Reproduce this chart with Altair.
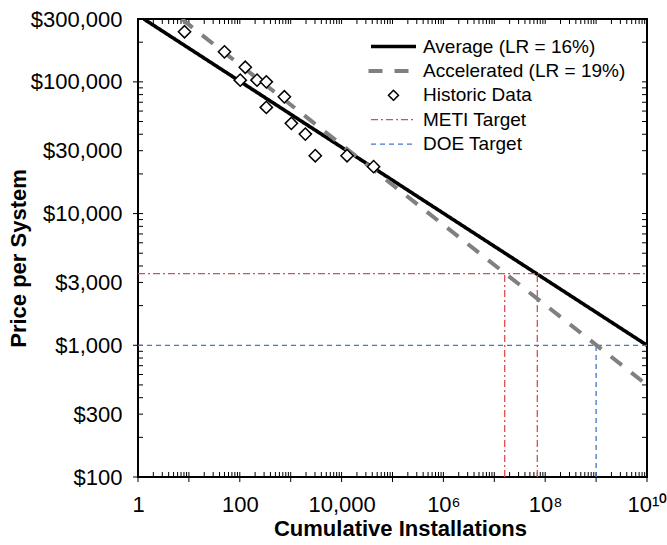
import altair as alt
import pandas as pd

FONT = "Liberation Sans"

# ---- data ----
series_names = ["Average (LR = 16%)", "Accelerated (LR = 19%)", "Historic Data", "METI Target", "DOE Target"]
series_colors = ["#000000", "#808080", "#000000", "#e04c4c", "#3f78c4"]
series_dash = [[1, 0], [14, 12], [1, 0], [7, 3, 2, 3], [5, 4]]
series_widths = [3.6, 4, 1.5, 1.3, 1.3]
legend_shapes = ["M-4.5,0L4.5,0", "M-5,0L3,0", "diamond", "M-4.5,0L4.5,0", "M-4.5,0L4.5,0"]

avg_x = [1.3, 1e10]
avg_y = [300000, 1000]
acc_x = [7.2, 1e10]
acc_y = [300000, 500]

hist_x = [8.2, 50, 128, 102, 218, 332, 750, 332, 1030, 1940, 3040, 12800, 42500]
hist_y = [240000, 169000, 129000, 103000, 103000, 100000, 77000, 64000, 48400, 40100, 27500, 27500, 22700]

meti_price = 3500
meti_x = [1.6e7, 7.0e7]
doe_price = 1000
doe_x = [1e9]

x_domain = [1, 1e10]
y_domain = [100, 300000]

x_label_values = [1, 100, 10000, 1e6, 1e8, 1e10]
x_label_texts = ["1", "100", "10,000", "10\u2076", "10\u2078", "10\u00b9\u2070"]
y_label_values = [100, 300, 1000, 3000, 10000, 30000, 100000, 300000]

x_decades = [10 ** d for d in range(0, 11)]
y_decades = [100, 1000, 10000, 100000]
x_all_ticks = x_decades + [k * 10 ** d for d in range(0, 10) for k in range(2, 10)]
y_all_ticks = y_decades + [k * 10 ** d for d in range(2, 6) for k in range(2, 10) if k * 10 ** d <= 300000]

W, H = 509, 458
TICK = 5

# ---- tables ----
lines_df = pd.DataFrame({
    "series": [series_names[0]] * len(avg_x) + [series_names[1]] * len(acc_x),
    "x": avg_x + acc_x,
    "y": avg_y + acc_y,
})
hist_df = pd.DataFrame({"series": series_names[2], "x": hist_x, "y": hist_y})

t_rows = [(series_names[3], x_domain[0], x_domain[1], meti_price, meti_price)]
for mx in meti_x:
    t_rows.append((series_names[3], mx, mx, y_domain[0], meti_price))
t_rows.append((series_names[4], x_domain[0], x_domain[1], doe_price, doe_price))
for dx in doe_x:
    t_rows.append((series_names[4], dx, dx, y_domain[0], doe_price))
targets_df = pd.DataFrame(t_rows, columns=["series", "x", "x2", "y", "y2"])

x_ticks_df = pd.DataFrame({"x": x_all_ticks})
x_major_df = pd.DataFrame({"x": x_decades})
y_ticks_df = pd.DataFrame({"y": y_all_ticks})
y_major_df = pd.DataFrame({"y": y_decades})

# ---- scales / encodings ----
x_scale = alt.Scale(type="log", domain=x_domain, nice=False)
y_scale = alt.Scale(type="log", domain=y_domain, nice=False)

leg = alt.Legend(title=None)
stroke_enc = alt.Stroke("series:N", scale=alt.Scale(domain=series_names, range=series_colors), legend=leg)
dash_enc = alt.StrokeDash("series:N", scale=alt.Scale(domain=series_names, range=series_dash), legend=leg)
width_enc = alt.StrokeWidth("series:N", scale=alt.Scale(type="ordinal", domain=series_names, range=series_widths), legend=leg)
shape_enc = alt.Shape("series:N", scale=alt.Scale(domain=series_names, range=legend_shapes), legend=leg)

expr = "''"
for v, t in reversed(list(zip(x_label_values, x_label_texts))):
    expr = f"datum.value == {int(v)} ? '{t}' : ({expr})"

x_label_axis = alt.Axis(orient="bottom", values=x_label_values, labelExpr=expr, ticks=False, tickSize=0,
                        domain=False, grid=False, labelFontSize=22, labelFont=FONT, labelColor="black",
                        labelPadding=17, labelFlush=False, labelOverlap=False,
                        title="Cumulative Installations", titleFontSize=22, titleFont=FONT,
                        titleFontWeight="bold", titleColor="black", titleX=262, titleY=58,
                        titleBaseline="alphabetic")
y_label_axis = alt.Axis(orient="left", values=y_label_values, format="$,.0f", ticks=False, tickSize=0,
                        domain=False, grid=False, labelFontSize=22, labelFont=FONT, labelColor="black",
                        labelPadding=16, labelFlush=False, labelOverlap=False,
                        title="Price per System", titleFontSize=22, titleFont=FONT,
                        titleFontWeight="bold", titleColor="black", titleX=-112.5, titleY=239,
                        titleBaseline="alphabetic")

X = alt.X("x:Q", scale=x_scale, axis=x_label_axis)
Y = alt.Y("y:Q", scale=y_scale, axis=y_label_axis)

avg_line = alt.Chart(lines_df).transform_filter(alt.datum.series == series_names[0]).mark_line(clip=True).encode(
    x=X, y=Y, stroke=stroke_enc, strokeDash=dash_enc, strokeWidth=width_enc,
)
targets = alt.Chart(targets_df).mark_rule(clip=True).encode(
    x=X, x2="x2:Q", y=Y, y2="y2:Q",
    stroke=stroke_enc, strokeDash=dash_enc, strokeWidth=width_enc,
)
acc_line = alt.Chart(lines_df).transform_filter(alt.datum.series == series_names[1]).mark_line(clip=True).encode(
    x=X, y=Y, stroke=stroke_enc, strokeDash=dash_enc, strokeWidth=width_enc,
)
points = alt.Chart(hist_df).mark_point(filled=True, fill="white", size=150, opacity=1).encode(
    x=X, y=Y, stroke=stroke_enc, strokeWidth=width_enc, shape=shape_enc,
)


def xtick_layer(df, y0, y1):
    return alt.Chart(df).mark_rule(color="black", strokeWidth=1).encode(
        x=X, y=alt.value(y0), y2=alt.value(y1))


def ytick_layer(df, x0, x1):
    return alt.Chart(df).mark_rule(color="black", strokeWidth=1).encode(
        y=Y, x=alt.value(x0), x2=alt.value(x1))


ticks = [
    xtick_layer(x_ticks_df, H - TICK, H),      # bottom, inside
    xtick_layer(x_major_df, H, H + TICK),      # bottom, outside (decades)
    xtick_layer(x_ticks_df, 0, TICK),          # top, inside
    ytick_layer(y_ticks_df, 0, TICK),          # left, inside
    ytick_layer(y_major_df, -TICK, 0),         # left, outside (decades)
    ytick_layer(y_ticks_df, W - TICK, W),      # right, inside
]

chart = alt.layer(avg_line, *ticks, targets, acc_line, points).properties(
    width=W, height=H,
    autosize=alt.AutoSizeParams(type="none"),
    padding={"left": 138, "top": 19, "right": 20, "bottom": 68},
    background="white",
).configure_view(
    stroke="black", strokeWidth=2
).configure_legend(
    orient="none", legendX=246, legendY=18, labelFontSize=19, labelFont=FONT, labelColor="black",
    symbolSize=100, labelOffset=20, rowPadding=4.4, padding=0, symbolFillColor="white", labelLimit=400,
)

chart.save("out.html", embed_options={"renderer": "svg", "actions": False})
